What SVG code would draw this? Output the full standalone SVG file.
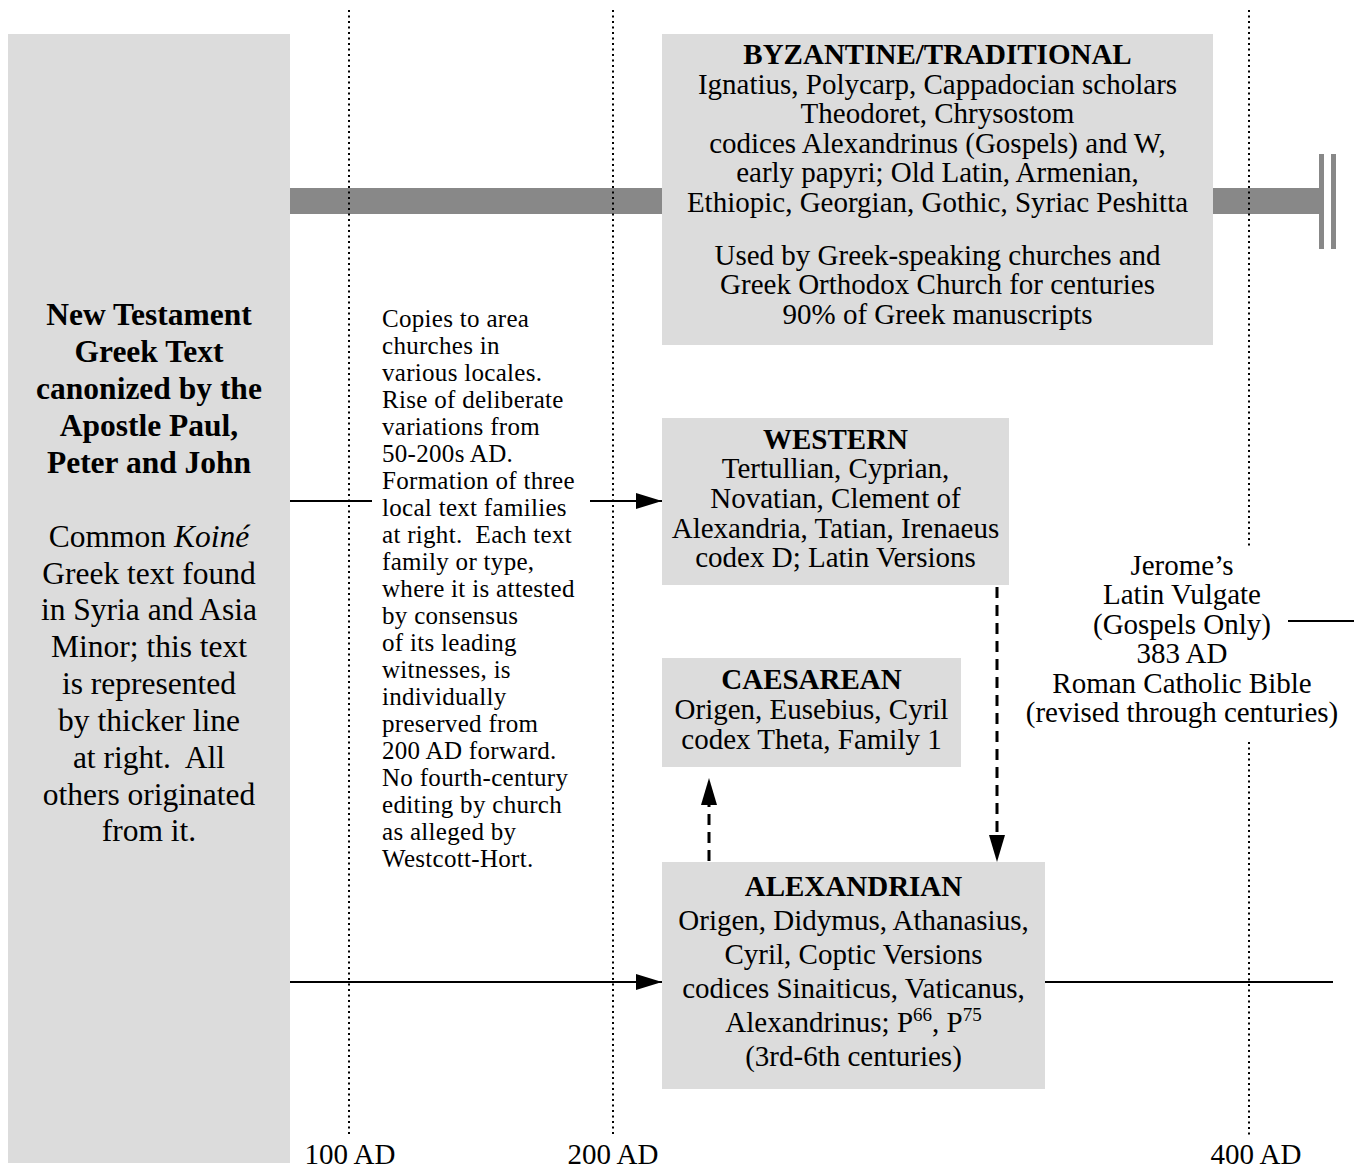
<svg xmlns="http://www.w3.org/2000/svg" width="1354" height="1169" viewBox="0 0 1354 1169">
<style>
text{font-family:"Liberation Serif","Times New Roman",serif;fill:#000;}
.box{fill:#dcdcdc;}
.t29{font-size:29px;text-anchor:middle;}
.b29{font-size:29px;font-weight:bold;text-anchor:middle;}
.t31{font-size:31.5px;text-anchor:middle;}
.b31{font-size:31.5px;font-weight:bold;text-anchor:middle;}
.mid{font-size:25px;letter-spacing:0.3px;}
.dot{stroke:#000;stroke-width:2;stroke-dasharray:2 3.5;fill:none;}
.line{stroke:#000;stroke-width:2;fill:none;}
.dash{stroke:#000;stroke-width:3;stroke-dasharray:11 7;fill:none;}
.sup{font-size:19px;}
</style>
<defs>
<marker id="ah" markerUnits="userSpaceOnUse" markerWidth="26" markerHeight="16" refX="26" refY="8" orient="auto">
<path d="M0,0 L26,8 L0,16 Z" fill="#000"/>
</marker>
</defs>
<rect width="1354" height="1169" fill="#fff"/>
<g id="timeline">
<rect x="290" y="188" width="1029" height="26" fill="#888"/>
<rect x="1319" y="154" width="5" height="95" fill="#888"/>
<rect x="1331" y="154" width="5" height="95" fill="#888"/>
<line class="dot" x1="349" y1="10" x2="349" y2="1136"/>
<line class="dot" x1="613" y1="10" x2="613" y2="1136"/>
<line class="dot" x1="1249" y1="10" x2="1249" y2="548"/>
<line class="dot" x1="1249" y1="742" x2="1249" y2="1136"/>
<text class="t29" x="350" y="1164">100 AD</text>
<text class="t29" x="613" y="1164">200 AD</text>
<text class="t29" x="1256" y="1164">400 AD</text>
</g>
<g id="source">
<rect class="box" x="8" y="34" width="282" height="1129"/>
<text class="b31" x="149" y="325">New Testament</text>
<text class="b31" x="149" y="362">Greek Text</text>
<text class="b31" x="149" y="399">canonized by the</text>
<text class="b31" x="149" y="436">Apostle Paul,</text>
<text class="b31" x="149" y="473">Peter and John</text>
<text class="t31" x="149" y="547">Common <tspan font-style="italic">Koiné</tspan></text>
<text class="t31" x="149" y="584">Greek text found</text>
<text class="t31" x="149" y="620">in Syria and Asia</text>
<text class="t31" x="149" y="657">Minor; this text</text>
<text class="t31" x="149" y="694">is represented</text>
<text class="t31" x="149" y="731">by thicker line</text>
<text class="t31" x="149" y="768" xml:space="preserve">at right.  All</text>
<text class="t31" x="149" y="805">others originated</text>
<text class="t31" x="149" y="841">from it.</text>
</g>
<g id="byzantine">
<rect class="box" x="662" y="34" width="551" height="311"/>
<text class="b29" x="937.5" y="64">BYZANTINE/TRADITIONAL</text>
<text class="t29" x="937.5" y="94">Ignatius, Polycarp, Cappadocian scholars</text>
<text class="t29" x="937.5" y="123">Theodoret, Chrysostom</text>
<text class="t29" x="937.5" y="153">codices Alexandrinus (Gospels) and W,</text>
<text class="t29" x="937.5" y="182">early papyri; Old Latin, Armenian,</text>
<text class="t29" x="937.5" y="212">Ethiopic, Georgian, Gothic, Syriac Peshitta</text>
<text class="t29" x="937.5" y="265">Used by Greek-speaking churches and</text>
<text class="t29" x="937.5" y="294">Greek Orthodox Church for centuries</text>
<text class="t29" x="937.5" y="324">90% of Greek manuscripts</text>
</g>
<g id="copies-note">
<text class="mid" x="382" y="327">Copies to area</text>
<text class="mid" x="382" y="354">churches in</text>
<text class="mid" x="382" y="381">various locales.</text>
<text class="mid" x="382" y="408">Rise of deliberate</text>
<text class="mid" x="382" y="435">variations from</text>
<text class="mid" x="382" y="462">50-200s AD.</text>
<text class="mid" x="382" y="489">Formation of three</text>
<text class="mid" x="382" y="516">local text families</text>
<text class="mid" x="382" y="543" xml:space="preserve">at right.  Each text</text>
<text class="mid" x="382" y="570">family or type,</text>
<text class="mid" x="382" y="597">where it is attested</text>
<text class="mid" x="382" y="624">by consensus</text>
<text class="mid" x="382" y="651">of its leading</text>
<text class="mid" x="382" y="678">witnesses, is</text>
<text class="mid" x="382" y="705">individually</text>
<text class="mid" x="382" y="732">preserved from</text>
<text class="mid" x="382" y="759">200 AD forward.</text>
<text class="mid" x="382" y="786">No fourth-century</text>
<text class="mid" x="382" y="813">editing by church</text>
<text class="mid" x="382" y="840">as alleged by</text>
<text class="mid" x="382" y="867">Westcott-Hort.</text>
</g>
<g id="western">
<rect class="box" x="662" y="418" width="347" height="167"/>
<text class="b29" x="835.5" y="449">WESTERN</text>
<text class="t29" x="835.5" y="478">Tertullian, Cyprian,</text>
<text class="t29" x="835.5" y="508">Novatian, Clement of</text>
<text class="t29" x="835.5" y="538">Alexandria, Tatian, Irenaeus</text>
<text class="t29" x="835.5" y="567">codex D; Latin Versions</text>
</g>
<g id="caesarean">
<rect class="box" x="662" y="658" width="299" height="109"/>
<text class="b29" x="811.5" y="689">CAESAREAN</text>
<text class="t29" x="811.5" y="719">Origen, Eusebius, Cyril</text>
<text class="t29" x="811.5" y="749">codex Theta, Family 1</text>
</g>
<g id="alexandrian">
<rect class="box" x="662" y="862" width="383" height="227"/>
<text class="b29" x="853.5" y="896">ALEXANDRIAN</text>
<text class="t29" x="853.5" y="930">Origen, Didymus, Athanasius,</text>
<text class="t29" x="853.5" y="964">Cyril, Coptic Versions</text>
<text class="t29" x="853.5" y="998">codices Sinaiticus, Vaticanus,</text>
<text class="t29" x="853.5" y="1032">Alexandrinus; P<tspan class="sup" dy="-11">66</tspan><tspan dy="11">, P</tspan><tspan class="sup" dy="-11">75</tspan></text>
<text class="t29" x="853.5" y="1066">(3rd-6th centuries)</text>
</g>
<g id="vulgate">
<text class="t29" x="1182" y="575">Jerome’s</text>
<text class="t29" x="1182" y="604">Latin Vulgate</text>
<text class="t29" x="1182" y="634">(Gospels Only)</text>
<text class="t29" x="1182" y="663">383 AD</text>
<text class="t29" x="1182" y="693">Roman Catholic Bible</text>
<text class="t29" x="1182" y="722">(revised through centuries)</text>
</g>
<g id="connectors">
<line class="line" x1="290" y1="501" x2="372" y2="501"/>
<line class="line" x1="590" y1="501" x2="662" y2="501" marker-end="url(#ah)"/>
<line class="line" x1="290" y1="982" x2="662" y2="982" marker-end="url(#ah)"/>
<line class="line" x1="1045" y1="982" x2="1333" y2="982"/>
<line class="line" x1="1288" y1="621" x2="1354" y2="621"/>
<line class="dash" x1="709" y1="861" x2="709" y2="805"/>
<path d="M709,778 L717,805 L701,805 Z" fill="#000"/>
<line class="dash" x1="997" y1="587" x2="997" y2="836"/>
<path d="M997,862 L1005,835 L989,835 Z" fill="#000"/>
</g>
</svg>
